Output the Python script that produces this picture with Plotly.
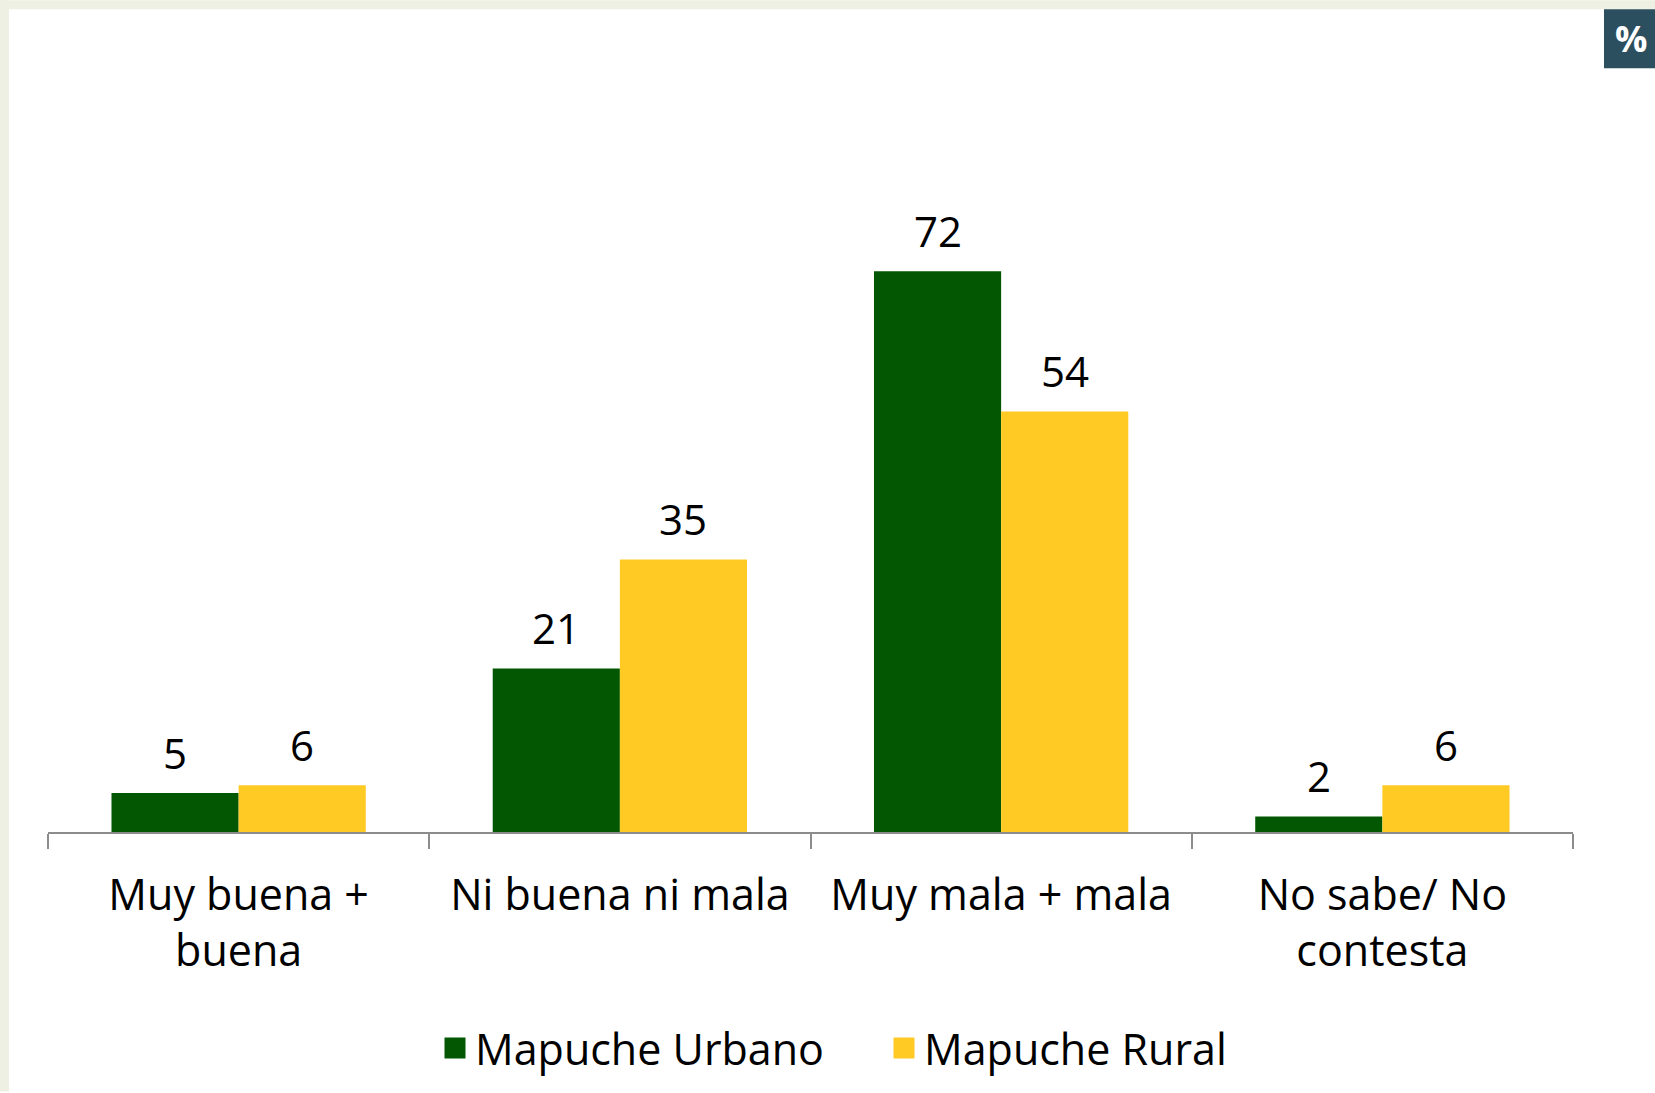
import plotly.graph_objects as go

categories = ["Muy buena +<br>buena", "Ni buena ni mala", "Muy mala + mala", "No sabe/ No<br>contesta"]
urbano = [5, 21, 72, 2]
rural = [6, 35, 54, 6]
series_names = ["Mapuche Urbano", "Mapuche Rural"]
colors = ["#035703", "#FFCA24"]

W, H = 1655, 1093
ML, MR, MT, MB = 48, 82, 209, 260
PW = W - ML - MR
PH = H - MT - MB
YMAX = 80

def px_x(px):
    return (px - ML) / PW

def px_y(py):
    return (H - MB - py) / PH

fig = go.Figure()
for name, vals, col in zip(series_names, [urbano, rural], colors):
    fig.add_trace(go.Bar(x=categories, y=vals, name=name, marker_color=col, marker_line_width=0,
                         showlegend=False))
# legend entries (larger square symbols)
for name, col in zip(series_names, colors):
    fig.add_trace(go.Scatter(x=[categories[0]], y=[None], mode="markers", name=name,
                             marker=dict(symbol="square", size=16, color=col, line=dict(color=col, width=5)),
                             showlegend=True, hoverinfo="skip"))

# value labels
for k, vals in enumerate([urbano, rural]):
    shift = -63.5 if k == 0 else 63.5
    for c, v in zip(categories, vals):
        fig.add_annotation(x=c, y=v, text=str(v), showarrow=False, xshift=shift, yshift=41,
                           yanchor="middle", font=dict(family="Open Sans", size=42, color="black"))

# decorative border strips
bg = "#edf0e2"
fig.add_shape(type="rect", xref="paper", yref="paper", x0=px_x(0), x1=px_x(W), y0=px_y(0), y1=px_y(9),
              fillcolor=bg, line_width=0, layer="below")
fig.add_shape(type="rect", xref="paper", yref="paper", x0=px_x(0), x1=px_x(9), y0=px_y(0), y1=px_y(H),
              fillcolor=bg, line_width=0, layer="below")
# % box
fig.add_shape(type="rect", xref="paper", yref="paper", x0=px_x(1604), x1=px_x(1660), y0=px_y(9), y1=px_y(68),
              fillcolor="#2b4f5e", line_width=0)
fig.add_annotation(xref="paper", yref="paper", x=px_x(1613), y=px_y(38), text="<b>%</b>", showarrow=False,
                   xanchor="left", yanchor="middle", font=dict(family="Open Sans", size=36, color="white"))

fig.update_layout(
    width=W, height=H,
    margin=dict(l=ML, r=MR, t=MT, b=MB),
    paper_bgcolor="white", plot_bgcolor="white",
    barmode="group", bargap=0.333, bargroupgap=0,
    font=dict(family="Open Sans", color="black"),
    showlegend=True,
    legend=dict(orientation="h", x=px_x(435), xanchor="left", y=px_y(1048), yanchor="middle",
                font=dict(family="Open Sans", size=43, color="black"),
                entrywidth=404, entrywidthmode="pixels", bgcolor="rgba(0,0,0,0)", itemsizing="trace"),
    xaxis=dict(showline=True, linecolor="#8c8c8c", linewidth=2, ticks="outside", tickson="boundaries",
               ticklen=15, tickwidth=2, tickcolor="#8c8c8c", ticklabelstandoff=24,
               tickfont=dict(family="Open Sans", size=43, color="black"), showgrid=False),
    yaxis=dict(range=[0, YMAX], visible=False, showgrid=False, zeroline=False),
)

fig.write_html("out.html", config={"displayModeBar": False},
               post_script="document.body.style.margin='0';document.body.style.overflow='hidden';")
